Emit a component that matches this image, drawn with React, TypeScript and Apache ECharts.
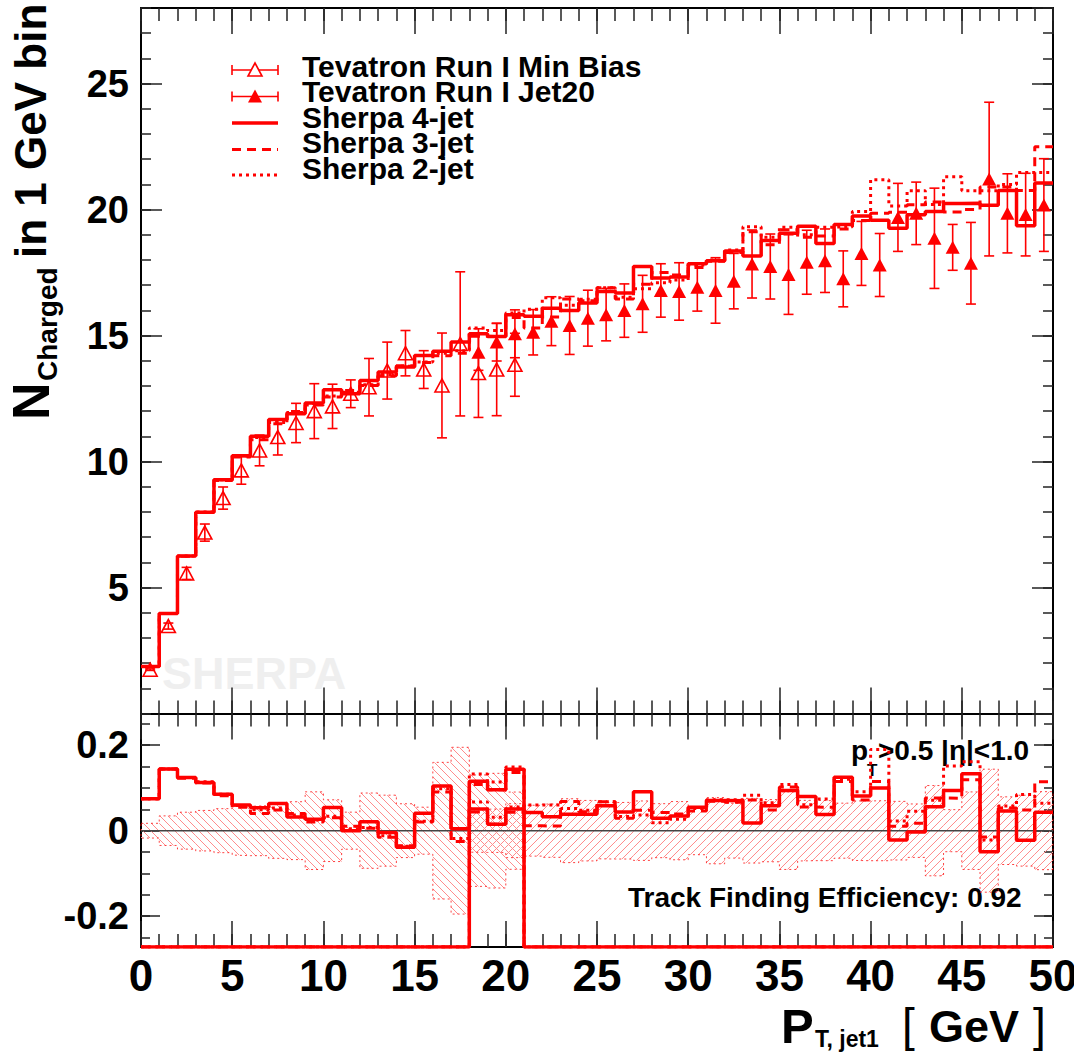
import { useEffect, useRef } from 'react';
import * as echarts from 'echarts';

// ---------------- data (1 GeV bins, x = leading-jet pT) ----------------
const binCount = 50;
const sherpa4jet = [
  1.87, 3.97, 6.25, 7.99, 9.28, 10.23, 11.0, 11.67, 11.9, 12.32,
  12.85, 12.69, 13.22, 13.55, 13.75, 14.21, 14.38, 14.74, 15.07, 14.96,
  15.83, 15.77, 16.08, 15.99, 16.29, 16.75, 16.69, 17.74, 17.28, 17.32,
  17.85, 17.97, 18.36, 18.16, 18.77, 19.06, 19.34, 18.65, 19.41, 19.74,
  19.58, 19.26, 19.79, 19.92, 20.24, 20.25, 20.17, 20.76, 19.36, 21.05,
];
const sherpa3jet = [
  1.87, 3.97, 6.24, 7.98, 9.25, 10.18, 10.86, 11.5, 11.99, 12.24,
  12.56, 12.82, 13.02, 13.4, 13.8, 13.93, 14.2, 14.3, 14.97, 14.96,
  15.72, 15.3, 15.74, 16.45, 16.38, 16.9, 16.45, 17.04, 17.5, 17.4,
  17.7, 17.95, 18.3, 19.12, 18.6, 19.2, 18.9, 18.95, 19.23, 19.57,
  19.85, 19.89, 20.19, 20.3, 19.9, 20.0, 20.9, 20.9, 20.76, 22.49,
];
const sherpa2jet = [
  1.87, 3.97, 6.25, 8.0, 9.28, 10.22, 10.95, 11.55, 11.95, 12.3,
  12.6, 12.75, 13.05, 13.45, 13.78, 13.95, 14.3, 14.4, 15.3, 15.2,
  15.9, 16.04, 16.5, 16.2, 16.44, 16.9, 16.52, 16.86, 17.1, 17.2,
  17.8, 18.0, 18.4, 19.32, 18.9, 19.3, 19.0, 19.3, 19.32, 19.92,
  21.18, 20.14, 20.75, 20.2, 21.3, 20.75, 20.75, 21.0, 21.47, 21.47,
];
const minBiasFirstBin = 0;
const minBias = [
  1.74, 3.47, 5.56, 7.18, 8.55, 9.65, 10.44, 10.97, 11.53, 12.0,
  12.19, 12.69, 12.95, 13.61, 14.3, 13.65, 13.02, 14.67, 13.51, 13.65, 13.84,
];
const minBiasErr = [
  0.03, 0.12, 0.24, 0.34, 0.44, 0.55, 0.61, 0.71, 0.78, 1.09,
  0.88, 0.55, 1.14, 1.13, 0.9, 0.75, 2.08, 2.86, 1.76, 1.83, 1.25,
];
const jet20FirstBin = 18;
const jet20 = [
  14.34, 14.74, 15.07, 15.13, 15.57, 15.4, 15.69, 15.83, 15.99, 16.26,
  16.79, 16.75, 16.92, 16.79, 17.16, 17.84, 17.74, 17.42, 17.91, 17.97,
  17.25, 18.26, 17.8, 19.69, 19.85, 18.86, 18.5, 17.87, 21.21, 19.85, 19.8, 20.18,
];
const jet20Err = [
  0.72, 0.75, 0.95, 0.9, 0.97, 1.15, 1.11, 1.04, 1.06, 1.13,
  1.06, 1.14, 0.95, 1.3, 1.1, 1.35, 1.29, 1.58, 1.27, 1.26,
  1.11, 1.27, 1.25, 1.35, 1.24, 1.99, 0.91, 1.62, 3.05, 1.57, 1.64, 1.84,
];
const legendLabels = [
  'Tevatron Run I Min Bias',
  'Tevatron Run I Jet20',
  'Sherpa 4-jet',
  'Sherpa 3-jet',
  'Sherpa 2-jet',
];
const upperRange = [0, 28];
const ratioRange = [-0.272, 0.274];

// ---------------- helpers ----------------
const RED = '#ff0000';
const HATCH_COLOR = '#ff8c8c';
const FONT = '"Liberation Sans", Arial, Helvetica, sans-serif';

function stepPoints(first: number, vals: number[]) {
  const pts: number[][] = [];
  vals.forEach((v, k) => {
    pts.push([first + k, v], [first + k + 1, v]);
  });
  return pts;
}

const tickLine = { color: '#222', width: 1.5 };
const labelFont = { fontFamily: FONT, fontWeight: 'bold', color: '#000' };

function xAxis(grid: number, pos: string, interval: number, len: number, labels: boolean, line: boolean) {
  return {
    type: 'value', gridIndex: grid, position: pos, min: 0, max: binCount, interval,
    axisLine: { show: line, onZero: false, lineStyle: { color: '#000', width: 2 } },
    axisTick: { show: true, inside: true, length: len, lineStyle: tickLine },
    axisLabel: { show: labels, ...labelFont, fontSize: 44, margin: 6 },
    splitLine: { show: false },
  };
}

function yAxis(grid: number, pos: string, range: number[], step: any, len: number, labels: boolean, line: boolean) {
  return {
    type: 'value', gridIndex: grid, position: pos, min: range[0], max: range[1],
    ...step,
    axisLine: { show: line, onZero: false, lineStyle: { color: '#000', width: 2 } },
    axisTick: { show: true, inside: true, length: len, lineStyle: tickLine },
    axisLabel: { show: labels, ...labelFont, fontSize: 38, margin: 12, showMinLabel: false, showMaxLabel: false },
    splitLine: { show: false },
  };
}

function errorBarSeries(first: number, vals: number[], errs: number[]) {
  return {
    type: 'custom', xAxisIndex: 0, yAxisIndex: 0, z: 4, silent: true,
    itemStyle: { color: RED },
    data: vals.map((v, k) => [first + k + 0.5, v - errs[k], v + errs[k]]),
    encode: { x: 0, y: [1, 2] },
    renderItem: (_p: any, api: any) => {
      const x = api.value(0);
      const top = api.coord([x, api.value(2)]);
      const bot = api.coord([x, api.value(1)]);
      const w = 5;
      const st = { stroke: RED, lineWidth: 1.6 };
      return {
        type: 'group',
        children: [
          { type: 'line', shape: { x1: top[0], y1: top[1], x2: bot[0], y2: bot[1] }, style: st },
          { type: 'line', shape: { x1: top[0] - w, y1: top[1], x2: top[0] + w, y2: top[1] }, style: st },
          { type: 'line', shape: { x1: bot[0] - w, y1: bot[1], x2: bot[0] + w, y2: bot[1] }, style: st },
        ],
      };
    },
  };
}

// hatched band: rectangle per bin, filled with 45-degree hatch lines
function bandSeries(first: number, vals: number[], errs: number[], dir: 'back' | 'fwd') {
  return {
    type: 'custom', xAxisIndex: 4, yAxisIndex: 4, z: 1, silent: true,
    itemStyle: { color: HATCH_COLOR },
    data: vals.map((v, k) => [first + k, first + k + 1, -errs[k] / v, errs[k] / v]),
    encode: { x: [0, 1], y: [2, 3] },
    renderItem: (_p: any, api: any) => {
      const a = api.coord([api.value(0), api.value(3)]);
      const b = api.coord([api.value(1), api.value(2)]);
      const x0 = a[0], x1 = b[0], y0 = a[1], y1 = b[1];
      const s = 8;
      const st = { stroke: HATCH_COLOR, lineWidth: 1, fill: null };
      const children: any[] = [];
      if (dir === 'back') {
        const cMin = Math.ceil((y0 - x1) / s) * s;
        const cMax = Math.floor((y1 - x0) / s) * s;
        for (let c = cMin; c <= cMax; c += s) {
          const xs = Math.max(x0, y0 - c), xe = Math.min(x1, y1 - c);
          if (xe > xs) children.push({ type: 'line', shape: { x1: xs, y1: xs + c, x2: xe, y2: xe + c }, style: st });
        }
      } else {
        const cMin = Math.ceil((x0 + y0) / s) * s + 1;
        const cMax = Math.floor((x1 + y1) / s) * s + s;
        for (let c = cMin; c <= cMax; c += s) {
          const xs = Math.max(x0, c - y1), xe = Math.min(x1, c - y0);
          if (xe > xs) children.push({ type: 'line', shape: { x1: xs, y1: c - xs, x2: xe, y2: c - xe }, style: st });
        }
      }
      return { type: 'group', children };
    },
  };
}

function bandOutline(first: number, vals: number[], errs: number[]) {
  const up = vals.map((v, k) => errs[k] / v);
  const pts: number[][] = [];
  up.forEach((e, k) => pts.push([first + k, e], [first + k + 1, e]));
  for (let k = up.length - 1; k >= 0; k--) pts.push([first + k + 1, -up[k]], [first + k, -up[k]]);
  pts.push([first, up[0]]);
  return {
    type: 'line', xAxisIndex: 4, yAxisIndex: 4, data: pts, showSymbol: false, symbol: 'none', silent: true, z: 2,
    itemStyle: { color: RED },
    lineStyle: { color: 'rgba(255,0,0,0.75)', width: 1, type: [2, 3] },
  };
}

function ratioVsMinBias(mc: number[]) {
  const r = minBias.map((d, k) => mc[minBiasFirstBin + k] / d - 1);
  const pts = stepPoints(minBiasFirstBin, r);
  const end = minBiasFirstBin + minBias.length;
  pts.push([end, ratioRange[0]], [binCount, ratioRange[0]]);
  return pts;
}

function ratioVsJet20(mc: number[]) {
  const r = jet20.map((d, k) => mc[jet20FirstBin + k] / d - 1);
  const pts: number[][] = [[0, ratioRange[0]], [jet20FirstBin, ratioRange[0]]];
  return pts.concat(stepPoints(jet20FirstBin, r));
}

const mcStyles = [
  { vals: sherpa4jet, width: 3.5, type: 'solid' as any },
  { vals: sherpa3jet, width: 3, type: [9, 6] as any },
  { vals: sherpa2jet, width: 3, type: [3, 4] as any },
];

function txt(x: number, y: number, text: string, font: string, extra: any = {}) {
  return {
    type: 'text', x, y, ...extra,
    style: { text, font: `${font} ${FONT}`, fill: '#000', textAlign: 'left', textVerticalAlign: 'middle', ...(extra.style || {}) },
  };
}

export default function App() {
  const ref = useRef<HTMLDivElement>(null);
  useEffect(() => {
    if (!ref.current) return;
    const chart = echarts.init(ref.current, undefined, { renderer: 'svg' });

    const series: any[] = [];
    // lower panel bands
    series.push(bandSeries(minBiasFirstBin, minBias, minBiasErr, 'back'));
    series.push(bandSeries(jet20FirstBin, jet20, jet20Err, 'fwd'));
    series.push(bandOutline(minBiasFirstBin, minBias, minBiasErr));
    series.push(bandOutline(jet20FirstBin, jet20, jet20Err));
    series.push({
      type: 'line', xAxisIndex: 4, yAxisIndex: 4, data: [[0, 0], [binCount, 0]], showSymbol: false, symbol: 'none',
      silent: true, z: 2, itemStyle: { color: '#444' }, lineStyle: { color: '#444', width: 1.5 },
    });
    // MC curves, upper and ratio
    mcStyles.slice().reverse().forEach((m) => {
      const ls = { color: RED, width: m.width, type: m.type };
      series.push({
        type: 'line', xAxisIndex: 0, yAxisIndex: 0, data: stepPoints(0, m.vals), showSymbol: false, symbol: 'none',
        silent: true, z: 3, itemStyle: { color: RED }, lineStyle: ls,
      });
      series.push({
        type: 'line', xAxisIndex: 4, yAxisIndex: 4, data: ratioVsMinBias(m.vals), showSymbol: false, symbol: 'none',
        silent: true, z: 3, itemStyle: { color: RED }, lineStyle: ls,
      });
      series.push({
        type: 'line', xAxisIndex: 4, yAxisIndex: 4, data: ratioVsJet20(m.vals), showSymbol: false, symbol: 'none',
        silent: true, z: 3, itemStyle: { color: RED }, lineStyle: ls,
      });
    });
    // data points
    series.push(errorBarSeries(minBiasFirstBin, minBias, minBiasErr));
    series.push(errorBarSeries(jet20FirstBin, jet20, jet20Err));
    series.push({
      type: 'scatter', xAxisIndex: 0, yAxisIndex: 0, z: 5, silent: true,
      data: minBias.map((v, k) => [minBiasFirstBin + k + 0.5, v]),
      symbol: 'triangle', symbolSize: [14, 13],
      itemStyle: { color: 'rgba(255,255,255,0)', borderColor: RED, borderWidth: 1.6, opacity: 1 },
    });
    series.push({
      type: 'scatter', xAxisIndex: 0, yAxisIndex: 0, z: 5, silent: true,
      data: jet20.map((v, k) => [jet20FirstBin + k + 0.5, v]),
      symbol: 'triangle', symbolSize: [14, 13],
      itemStyle: { color: RED, opacity: 1 },
    });

    // legend (drawn)
    const lx0 = 232, lx1 = 278, lxm = 255, tx = 302;
    const rowsText = [66, 91.5, 117, 142.5, 168];
    const rowsSym = [70, 96.5, 123, 149.5, 175];
    const legendEls: any[] = [];
    legendLabels.forEach((lab, i) => {
      legendEls.push(txt(tx, rowsText[i], lab, 'bold 30px'));
      const y = rowsSym[i];
      if (i < 2) {
        const st = { stroke: RED, lineWidth: 1.6 };
        legendEls.push({ type: 'line', shape: { x1: lx0, y1: y, x2: lx1, y2: y }, style: st });
        legendEls.push({ type: 'line', shape: { x1: lx0, y1: y - 5, x2: lx0, y2: y + 5 }, style: st });
        legendEls.push({ type: 'line', shape: { x1: lx1, y1: y - 5, x2: lx1, y2: y + 5 }, style: st });
        legendEls.push({
          type: 'polygon', shape: { points: [[lxm - 7, y + 6], [lxm + 7, y + 6], [lxm, y - 7]] },
          style: i === 0 ? { fill: '#fff', stroke: RED, lineWidth: 1.6 } : { fill: RED },
        });
      } else {
        const m = mcStyles[i - 2];
        legendEls.push({
          type: 'line', shape: { x1: lx0, y1: y, x2: lx1, y2: y },
          style: { stroke: RED, lineWidth: m.width, lineDash: m.type === 'solid' ? null : m.type },
        });
      }
    });

    const rot = { rotation: Math.PI / 2 };
    const textEls: any[] = [
      txt(162, 673, 'SHERPA', 'bold 45px', { z: -10, style: { fill: '#efefef' } }),
      // y title (rotated)
      txt(31, 420, 'N', 'bold 52px', rot),
      txt(47, 381, 'Charged', 'bold 28px', rot),
      txt(30, 258, 'in 1 GeV bin', 'bold 44px', rot),
      // x title
      txt(781, 1026, 'P', 'bold 49px'),
      txt(815, 1039, 'T, jet1', 'bold 23px'),
      txt(902, 1025, '[', '46px'),
      txt(929, 1026, 'GeV', 'bold 45px'),
      txt(1033, 1025, ']', '46px'),
      // annotations in ratio panel
      txt(851, 750, 'p', 'bold 28px'),
      txt(867, 770, 'T', 'bold 17px'),
      txt(878, 750, '>0.5 |η|<1.0', 'bold 28px'),
      txt(628, 897, 'Track Finding Efficiency: 0.92', 'bold 28px'),
    ];

    const option: any = {
      animation: false,
      backgroundColor: '#fff',
      color: [RED],
      grid: [
        { left: 141, top: 8, width: 912, height: 705.5, containLabel: false, outerBoundsMode: 'none' },
        { left: 141, top: 713.5, width: 912, height: 233.5, containLabel: false, outerBoundsMode: 'none' },
      ],
      xAxis: [
        xAxis(0, 'bottom', 5, 26, false, true),
        xAxis(0, 'bottom', 1, 13, false, false),
        xAxis(0, 'top', 5, 26, false, true),
        xAxis(0, 'top', 1, 13, false, false),
        xAxis(1, 'bottom', 5, 26, true, true),
        xAxis(1, 'bottom', 1, 13, false, false),
        xAxis(1, 'top', 5, 26, false, true),
        xAxis(1, 'top', 1, 13, false, false),
      ],
      yAxis: [
        yAxis(0, 'left', upperRange, { interval: 5 }, 21, true, true),
        yAxis(0, 'left', upperRange, { interval: 1 }, 10, false, false),
        yAxis(0, 'right', upperRange, { interval: 5 }, 21, false, true),
        yAxis(0, 'right', upperRange, { interval: 1 }, 10, false, false),
        yAxis(1, 'left', ratioRange, { splitNumber: 3 }, 19, true, true),
        yAxis(1, 'left', ratioRange, { splitNumber: 11 }, 9, false, false),
        yAxis(1, 'right', ratioRange, { splitNumber: 3 }, 19, false, true),
        yAxis(1, 'right', ratioRange, { splitNumber: 11 }, 9, false, false),
      ],
      series,
      graphic: { elements: [...textEls, ...legendEls] },
    };
    chart.setOption(option);
    return () => chart.dispose();
  }, []);
  return <div ref={ref} style={{ position: 'absolute', left: 0, top: 0, width: 1074, height: 1052 }} />;
}
